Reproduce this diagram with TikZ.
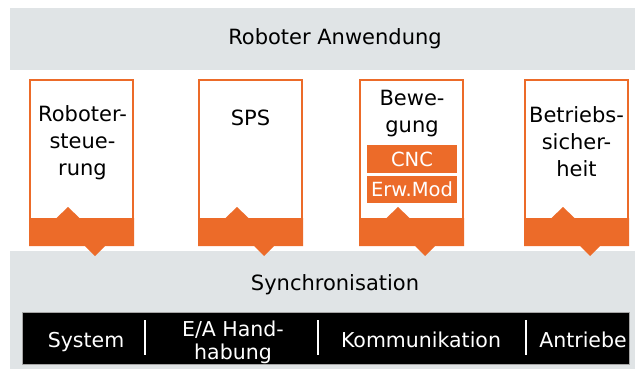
\documentclass[tikz,border=0pt]{standalone}
\usepackage{fontspec}
\setmainfont{DejaVu Sans}
\usepackage{tikz}
\definecolor{bandgray}{HTML}{E0E4E6}
\definecolor{boxorange}{HTML}{EC6B29}

\begin{document}
\begin{tikzpicture}[x=1pt, y=-1pt,
        lbl/.style={font=\fontsize{21}{27}\selectfont, align=center, inner sep=0pt, anchor=base},
        modlbl/.style={font=\fontsize{19.5}{24}\selectfont, text=white, inner sep=0pt},
        barlbl/.style={font=\fontsize{20.5}{22.5}\selectfont, text=white, align=center, inner sep=0pt, anchor=base}]
        \useasboundingbox (0,0) rectangle (635,369);

        % Application band
        \fill[bandgray] (10,8) rectangle (635,70);
        \node[lbl] (app) at (335,45) {Roboter Anwendung};

        % Synchronisation band
        \fill[bandgray] (10,251) rectangle (635,369);
        \node[lbl] (sync) at (335,290) {Synchronisation};

        % Boxes
        \filldraw[fill=white, draw=boxorange, line width=2.4] (30.2,80.2) rectangle (132.8,240);
        \fill[boxorange] (29,218) -- (56.5,218) -- (68,207) -- (79.5,218) -- (134,218) -- (134,246) -- (105,246) -- (95,256) -- (85,246) -- (29,246) -- cycle;
        \filldraw[fill=white, draw=boxorange, line width=2.4, xshift=169] (30.2,80.2) rectangle (132.8,240);
        \fill[boxorange, xshift=169] (29,218) -- (56.5,218) -- (68,207) -- (79.5,218) -- (134,218) -- (134,246) -- (105,246) -- (95,256) -- (85,246) -- (29,246) -- cycle;
        \filldraw[fill=white, draw=boxorange, line width=2.4, xshift=330] (30.2,80.2) rectangle (132.8,240);
        \fill[boxorange, xshift=330] (29,218) -- (56.5,218) -- (68,207) -- (79.5,218) -- (134,218) -- (134,246) -- (105,246) -- (95,256) -- (85,246) -- (29,246) -- cycle;
        \filldraw[fill=white, draw=boxorange, line width=2.4, xshift=495] (30.2,80.2) rectangle (132.8,240);
        \fill[boxorange, xshift=495] (29,218) -- (56.5,218) -- (68,207) -- (79.5,218) -- (134,218) -- (134,246) -- (105,246) -- (95,256) -- (85,246) -- (29,246) -- cycle;

        % Box labels (base = last line)
        \node[lbl] (rsteu) at (82.5,175) {Roboter-\\steue-\\rung};
        \node[lbl] (sps) at (250.5,125) {SPS};
        \node[lbl] (bew) at (412,132) {Bewe-\\gung};
        \node[lbl] (bsich) at (576.5,176) {Betriebs-\\sicher-\\heit};

        % Motion modules
        \fill[boxorange] (367,145) rectangle (457,173);
        \node[modlbl] (cnc) at (412,159) {CNC};
        \fill[boxorange] (367,176) rectangle (457,203);
        \node[modlbl] (erw) at (412,189.5) {Erw.Mod};

        % System bar
        \filldraw[fill=black, draw=gray!70] (22,312) rectangle (629,364);
        \draw[white, line width=1.5] (145,320) -- (145,355);
        \draw[white, line width=1.5] (318,320) -- (318,355);
        \draw[white, line width=1.5] (526,320) -- (526,355);
        \node[barlbl] (sys) at (86,347) {System};
        \node[barlbl] (ea) at (233,359) {E/A Hand-\\habung};
        \node[barlbl] (komm) at (421,347) {Kommunikation};
        \node[barlbl] (antr) at (583,347) {Antriebe};
\end{tikzpicture}
\end{document}
